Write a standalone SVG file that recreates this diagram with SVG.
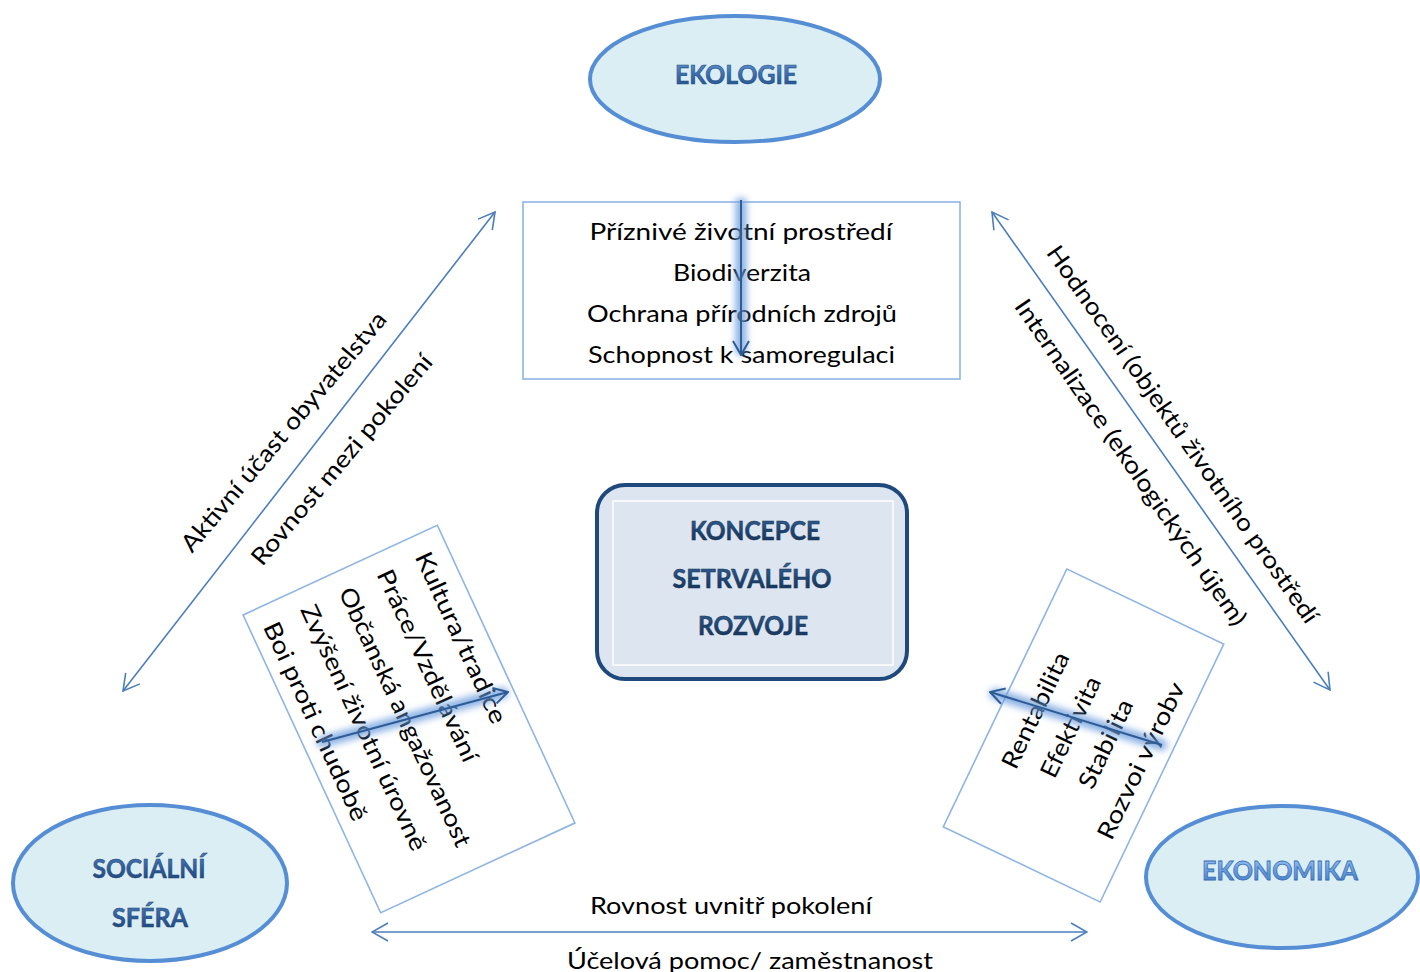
<svg xmlns="http://www.w3.org/2000/svg" width="1420" height="972" viewBox="0 0 1420 972">
<style>
.ell{fill:#DBEEF4;stroke:#558ED5;stroke-width:4}
.box{fill:#FFFFFF;stroke:#8EB4E3;stroke-width:1.6}
.body{font-family:Lato,"Liberation Sans",sans-serif;font-size:24px;fill:#000}
.mid{text-anchor:middle}
.title{font-family:Lato,"Liberation Sans",sans-serif;font-size:26px;font-weight:bold;text-anchor:middle}
.conn{fill:none;stroke:#4A7EBB;stroke-width:1.6}
.glow{fill:none;stroke:#6A9CDC;stroke-width:11;stroke-linecap:round;opacity:0.8}
.dark{fill:none;stroke:#2D5C96;stroke-width:2}
</style>
<defs>
<marker id="ah" viewBox="0 0 18 20" refX="17" refY="10" markerWidth="18" markerHeight="20" markerUnits="userSpaceOnUse" orient="auto-start-reverse">
<path d="M1,1 L17,10 L1,19" fill="none" stroke="#4A7EBB" stroke-width="1.6"/>
</marker>
<marker id="ahd" viewBox="0 0 16 18" refX="15" refY="9" markerWidth="16" markerHeight="18" markerUnits="userSpaceOnUse" orient="auto">
<path d="M1,1 L15,9 L1,17" fill="none" stroke="#2D5C96" stroke-width="2"/>
</marker>
<filter id="blur" filterUnits="userSpaceOnUse" x="0" y="0" width="1420" height="972"><feGaussianBlur stdDeviation="3.5"/></filter>
<linearGradient id="gEko" x1="0" y1="0" x2="0" y2="1">
<stop offset="0" stop-color="#6C9BD6"/><stop offset="0.5" stop-color="#3C70B2"/><stop offset="1" stop-color="#1F4B85"/>
</linearGradient>
<linearGradient id="gSoc" x1="0" y1="0" x2="0" y2="1">
<stop offset="0" stop-color="#4F7FBC"/><stop offset="0.5" stop-color="#2F5E9C"/><stop offset="1" stop-color="#1C4275"/>
</linearGradient>
<linearGradient id="gEkn" x1="0" y1="0" x2="0" y2="1">
<stop offset="0" stop-color="#A9CCF5"/><stop offset="0.45" stop-color="#6EA3E6"/><stop offset="1" stop-color="#3E78C4"/>
</linearGradient>
<linearGradient id="gKon" x1="0" y1="0" x2="0" y2="1">
<stop offset="0" stop-color="#3A689E"/><stop offset="0.5" stop-color="#1F4674"/><stop offset="1" stop-color="#142F52"/>
</linearGradient>
</defs>

<g id="connectors">
<line class="conn" x1="123" y1="691" x2="495" y2="212" marker-start="url(#ah)" marker-end="url(#ah)"/>
<line class="conn" x1="992" y1="212" x2="1330" y2="690" marker-start="url(#ah)" marker-end="url(#ah)"/>
<line class="conn" x1="372" y1="932" x2="1087" y2="932" marker-start="url(#ah)" marker-end="url(#ah)"/>
</g>

<g id="ekologie">
<ellipse class="ell" cx="735" cy="79" rx="145" ry="63"/>
<text class="title" x="736" y="84" textLength="122" lengthAdjust="spacingAndGlyphs" fill="url(#gEko)" stroke="#1E4A80" stroke-width="0.6">EKOLOGIE</text>
</g>

<g id="ekologie-box">
<rect class="box" x="523" y="202" width="437" height="177"/>
<text class="body mid" x="741" y="240" textLength="303" lengthAdjust="spacingAndGlyphs">Příznivé životní prostředí</text>
<text class="body mid" x="742" y="281" textLength="138" lengthAdjust="spacingAndGlyphs">Biodiverzita</text>
<text class="body mid" x="742" y="322" textLength="310" lengthAdjust="spacingAndGlyphs">Ochrana přírodních zdrojů</text>
<text class="body mid" x="741.5" y="363" textLength="307" lengthAdjust="spacingAndGlyphs">Schopnost k samoregulaci</text>
<line class="glow" x1="741" y1="203" x2="741" y2="350" filter="url(#blur)"/>
<line class="dark" x1="741" y1="200" x2="741" y2="355" marker-end="url(#ahd)"/>
</g>

<g id="koncepce">
<rect x="597" y="485" width="310" height="194" rx="28" ry="28" fill="#DCE5F0" stroke="#1F497D" stroke-width="4"/>
<rect x="613" y="501" width="280" height="164" fill="none" stroke="#FFFFFF" stroke-width="1.5"/>
<text class="title" x="755" y="540" textLength="130" lengthAdjust="spacingAndGlyphs" fill="url(#gKon)" stroke="#14304F" stroke-width="0.5">KONCEPCE</text>
<text class="title" x="752" y="588" textLength="159" lengthAdjust="spacingAndGlyphs" fill="url(#gKon)" stroke="#14304F" stroke-width="0.5">SETRVALÉHO</text>
<text class="title" x="753" y="635" textLength="110" lengthAdjust="spacingAndGlyphs" fill="url(#gKon)" stroke="#14304F" stroke-width="0.5">ROZVOJE</text>
</g>

<g id="socialni">
<ellipse class="ell" cx="150" cy="883" rx="137" ry="78"/>
<text class="title" x="149" y="878" textLength="113" lengthAdjust="spacingAndGlyphs" fill="url(#gSoc)" stroke="#1C3F6E" stroke-width="0.5">SOCIÁLNÍ</text>
<text class="title" x="150" y="927" textLength="76" lengthAdjust="spacingAndGlyphs" fill="url(#gSoc)" stroke="#1C3F6E" stroke-width="0.5">SFÉRA</text>
</g>

<g id="ekonomika">
<ellipse class="ell" cx="1282" cy="877" rx="136" ry="71"/>
<text class="title" x="1280" y="880" textLength="156" lengthAdjust="spacingAndGlyphs" fill="url(#gEkn)" stroke="#3A6DB0" stroke-width="0.8">EKONOMIKA</text>
</g>

<g id="left-labels">
<text class="body mid" transform="translate(290,437) rotate(-50)" textLength="305" lengthAdjust="spacingAndGlyphs">Aktivní účast obyvatelstva</text>
<text class="body mid" transform="translate(348,465) rotate(-50)" textLength="267" lengthAdjust="spacingAndGlyphs">Rovnost mezi pokolení</text>
</g>

<g id="right-labels">
<text class="body mid" transform="translate(1176,439) rotate(55)" textLength="455" lengthAdjust="spacingAndGlyphs">Hodnocení (objektů životního prostředí</text>
<text class="body mid" transform="translate(1124,467) rotate(55.5)" textLength="390" lengthAdjust="spacingAndGlyphs">Internalizace (ekologických újem)</text>
</g>

<g id="bottom-labels">
<text class="body mid" x="731" y="914" textLength="282" lengthAdjust="spacingAndGlyphs">Rovnost uvnitř pokolení</text>
<text class="body mid" x="750" y="969" textLength="366" lengthAdjust="spacingAndGlyphs">Účelová pomoc/ zaměstnanost</text>
</g>

<g id="socialni-box">
<g transform="translate(409,719) rotate(65.2)">
<rect class="box" x="-164" y="-107" width="328" height="214"/>
<text class="body" x="-145" y="-73" textLength="186" lengthAdjust="spacingAndGlyphs">Kultura/tradice</text>
<text class="body" x="-145" y="-31" textLength="209" lengthAdjust="spacingAndGlyphs">Práce/Vzdělávání</text>
<text class="body" x="-145" y="11" textLength="283" lengthAdjust="spacingAndGlyphs">Občanská angažovanost</text>
<text class="body" x="-145" y="53" textLength="268" lengthAdjust="spacingAndGlyphs">Zvýšení životní úrovně</text>
<text class="body" x="-145" y="94" textLength="216" lengthAdjust="spacingAndGlyphs">Boi proti chudobě</text>
</g>
<line class="glow" x1="322" y1="742" x2="503" y2="693" filter="url(#blur)"/>
<line class="dark" x1="322" y1="742" x2="508" y2="692" marker-end="url(#ahd)"/>
</g>

<g id="ekonomika-box">
<g transform="translate(1083.5,735.5) rotate(-64.4)">
<rect class="box" x="-143" y="-87" width="286" height="174"/>
<text class="body mid" x="2" y="-46" textLength="126" lengthAdjust="spacingAndGlyphs">Rentabilita</text>
<text class="body mid" x="2" y="-7" textLength="109" lengthAdjust="spacingAndGlyphs">Efektivita</text>
<text class="body mid" x="2" y="32" textLength="96" lengthAdjust="spacingAndGlyphs">Stabilita</text>
<text class="body mid" x="2" y="71" textLength="171" lengthAdjust="spacingAndGlyphs">Rozvoi výrobv</text>
</g>
<line class="glow" x1="1162" y1="745" x2="995" y2="694" filter="url(#blur)"/>
<line class="dark" x1="1162" y1="745" x2="990" y2="692" marker-end="url(#ahd)"/>
</g>
</svg>
